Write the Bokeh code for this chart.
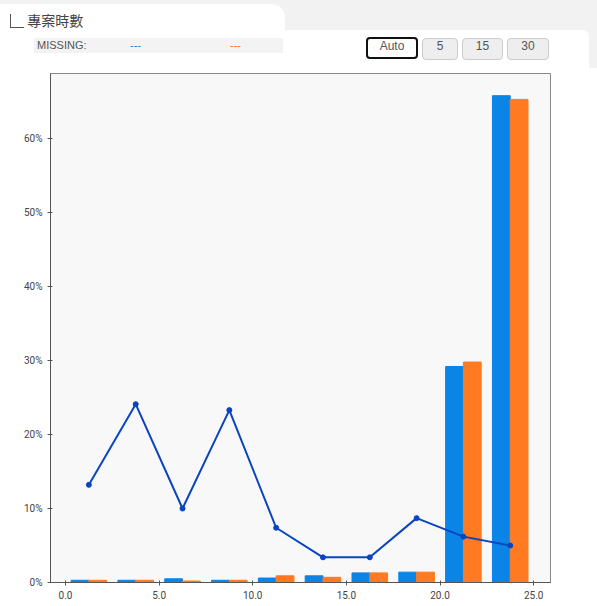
from bokeh.plotting import figure
from bokeh.layouts import column
from bokeh.models import Div, PrintfTickFormatter, FixedTicker, Range1d
from bokeh.embed import file_html
from bokeh.resources import INLINE

# bin centres and values (%)
bins = [1.25, 3.75, 6.25, 8.75, 11.25, 13.75, 16.25, 18.75, 21.25, 23.75]
blue_vals = [0.3, 0.3, 0.5, 0.3, 0.6, 0.9, 1.3, 1.4, 29.2, 65.8]
orange_vals = [0.3, 0.3, 0.2, 0.3, 0.9, 0.7, 1.3, 1.4, 29.8, 65.3]
line_vals = [13.2, 24.1, 10.0, 23.3, 7.4, 3.4, 3.4, 8.7, 6.2, 5.0]
x_ticks = [0, 5, 10, 15, 20, 25]
y_ticks = [0, 10, 20, 30, 40, 50, 60]

btn = ("display:inline-block;box-sizing:border-box;height:22px;line-height:20px;text-align:center;"
       "border-radius:4px;font:12px 'Liberation Sans';color:#555;margin-left:4px;")
header = Div(width=597, height=68, styles={"margin": "0"}, text=f"""
<div style="position:relative;width:597px;height:68px;font-family:'Noto Sans CJK TC';background:#f2f2f2;">
 <div style="position:absolute;left:0;top:4px;width:285px;height:64px;background:#fff;border-radius:0 14px 0 0;"></div>
 <div style="position:absolute;left:0;top:30px;width:589px;height:38px;background:#fff;border-radius:0 6px 0 0;"></div>
 <div style="position:absolute;left:10px;top:10px;font-size:14px;color:#444;">
  <span style="display:inline-block;width:14px;height:14px;border-left:1.5px solid #555;border-bottom:1.5px solid #555;position:relative;top:2px;"></span> 專案時數</div>
 <div style="position:absolute;left:34px;top:38px;width:249px;height:15px;background:#f3f3f3;font:11px 'Liberation Sans';color:#555;line-height:15px;">
   &nbsp;MISSING:<span style="position:absolute;left:96px;color:#1a7fd4;">---</span><span style="position:absolute;left:196px;color:#f07020;">---</span></div>
 <div style="position:absolute;left:362px;top:36px;">
  <span style="{btn}width:52px;border:2px solid #111;">Auto</span><span style="{btn}width:36px;border:1px solid #ccc;background:#eee;">5</span><span style="{btn}width:41px;border:1px solid #ccc;background:#eee;">15</span><span style="{btn}width:42px;border:1px solid #ccc;background:#eee;">30</span>
 </div>
</div>""")

p = figure(width=597, height=538, output_backend="svg", toolbar_location=None,
           x_range=Range1d(-0.8, 25.9), y_range=Range1d(0, 68.8),
           min_border_left=50, min_border_right=47, min_border_top=5, min_border_bottom=24)
p.background_fill_color = "#f8f8f8"
p.border_fill_color = "#ffffff"
p.outline_line_color = "#888888"
p.grid.visible = False

p.vbar(x=[b - 0.475 for b in bins], top=blue_vals, width=0.95, color="#0a84e6")
p.vbar(x=[b + 0.475 for b in bins], top=orange_vals, width=0.95, color="#ff7a21")
p.line(bins, line_vals, line_color="#0a44c0", line_width=2)
p.scatter(bins, line_vals, size=5, color="#0a44c0")

p.xaxis.ticker = FixedTicker(ticks=x_ticks)
p.xaxis.formatter = PrintfTickFormatter(format="%.1f")
p.yaxis.ticker = FixedTicker(ticks=y_ticks)
p.yaxis.formatter = PrintfTickFormatter(format="%d%%")
for ax in (p.xaxis, p.yaxis):
    ax.major_label_text_font = "Roboto"
    ax.major_label_text_font_size = "10px"
    ax.major_label_text_color = "#444"
    ax.minor_tick_line_color = None
    ax.axis_line_color = "#555"
    ax.major_tick_line_color = "#555"
p.yaxis.major_tick_out = 3
p.xaxis.major_tick_out = 3

layout = column(header, p, spacing=0)
open("out.html", "w").write(file_html(layout, INLINE))
